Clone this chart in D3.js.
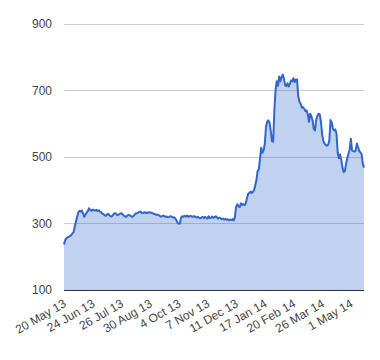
<!DOCTYPE html>
<html>
<head>
<meta charset="utf-8">
<script src="https://cdn.jsdelivr.net/npm/d3@7"></script>
<style>
  body { margin: 0; background: #fff; }
  text { font-family: "Liberation Sans", Arial, sans-serif; font-size: 12px; fill: #444; }
</style>
</head>
<body>
<div id="chart"></div>
<script>
// daily closing values, one per trading day
var values = [
  237, 250, 256, 258, 260, 262, 265, 270, 274, 290,
  305, 320, 334, 338, 336, 339, 330, 320, 328, 332,
  338, 346, 340, 338, 342, 340, 339, 341, 338, 340,
  336, 334, 330, 328, 325, 323, 327, 329, 325, 322,
  321, 326, 330, 331, 327, 325, 328, 330, 331, 328,
  324, 321, 320, 324, 326, 325, 322, 320, 322, 326,
  330, 331, 333, 335, 336, 332, 331, 333, 334, 331,
  333, 334, 332, 333, 331, 330, 328, 326, 327, 325,
  323, 321, 322, 324, 322, 320, 321, 319, 320, 322,
  321, 318, 319, 316, 310, 302, 299, 300, 318, 322,
  320, 323, 321, 324, 320, 322, 323, 321, 320, 322,
  320, 318, 320, 317, 316, 318, 320, 316, 320, 318,
  315, 322, 316, 318, 321, 317, 319, 322, 318, 315,
  318, 316, 313, 315, 312, 314, 311, 313, 310, 312,
  310, 313, 309, 320, 350, 358, 352, 349, 361, 356,
  358, 355, 360, 375, 388, 392, 396, 392, 395, 400,
  415, 430, 458, 463, 495, 528, 513, 520, 540, 590,
  606, 610, 603, 578, 548, 546, 640, 700, 728, 714,
  742, 728, 740, 748, 736, 716, 713, 722, 712, 720,
  730, 728, 737, 725, 733, 733, 682, 666, 660, 648,
  650, 645, 638, 640, 628, 606, 630, 622, 610, 585,
  580, 612, 624, 630, 628, 605, 568, 548, 540, 536,
  534, 537, 550, 611, 604, 585, 580, 583, 570, 512,
  496, 508, 490, 468, 455, 458, 480, 496, 510, 522,
  555, 520, 518, 516, 519, 540, 530, 518, 514, 508,
  480, 468
];

// every 24th trading day gets a label
var xLabels = ["20 May 13", "24 Jun 13", "26 Jul 13", "30 Aug 13", "4 Oct 13",
  "7 Nov 13", "11 Dec 13", "17 Jan 14", "20 Feb 14", "26 Mar 14", "1 May 14"];
var labelStep = 24;
var yTicks = [100, 300, 500, 700, 900];

var width = 380, height = 360;
var margin = { top: 24, right: 16, bottom: 70, left: 64 };

var svg = d3.select("#chart").append("svg")
  .attr("width", width)
  .attr("height", height);

var x = d3.scaleLinear()
  .domain([0, values.length - 1])
  .range([margin.left, width - margin.right]);

var y = d3.scaleLinear()
  .domain([100, 900])
  .range([height - margin.bottom, margin.top]);

// gridlines
svg.selectAll(".grid")
  .data(yTicks.slice(1))
  .enter()
  .append("line")
  .attr("x1", margin.left)
  .attr("x2", width - margin.right)
  .attr("y1", function(d) { return y(d); })
  .attr("y2", function(d) { return y(d); })
  .attr("stroke", "#cccccc")
  .attr("stroke-width", 1)
  .attr("shape-rendering", "crispEdges");

// area + line
var area = d3.area()
  .x(function(d, i) { return x(i); })
  .y0(y(100))
  .y1(function(d) { return y(d); });

var line = d3.line()
  .x(function(d, i) { return x(i); })
  .y(function(d) { return y(d); });

svg.append("path")
  .datum(values)
  .attr("d", area)
  .attr("fill", "#3366cc")
  .attr("fill-opacity", 0.3);

svg.append("path")
  .datum(values)
  .attr("d", line)
  .attr("fill", "none")
  .attr("stroke", "#3366cc")
  .attr("stroke-width", 2)
  .attr("stroke-linejoin", "round");

// baseline
svg.append("line")
  .attr("x1", margin.left)
  .attr("x2", width - margin.right)
  .attr("y1", y(100))
  .attr("y2", y(100))
  .attr("stroke", "#333333")
  .attr("stroke-width", 1)
  .attr("shape-rendering", "crispEdges");

// y labels
svg.selectAll(".ylab")
  .data(yTicks)
  .enter()
  .append("text")
  .attr("x", margin.left - 12)
  .attr("y", function(d) { return y(d); })
  .attr("dy", "0.35em")
  .attr("text-anchor", "end")
  .text(function(d) { return d; });

// x labels, slanted
svg.selectAll(".xlab")
  .data(xLabels)
  .enter()
  .append("text")
  .attr("text-anchor", "end")
  .attr("transform", function(d, i) {
    return "translate(" + (x(i * labelStep) + 3) + "," + (y(100) + 16) + ") rotate(-30)";
  })
  .text(function(d) { return d; });
</script>
</body>
</html>
